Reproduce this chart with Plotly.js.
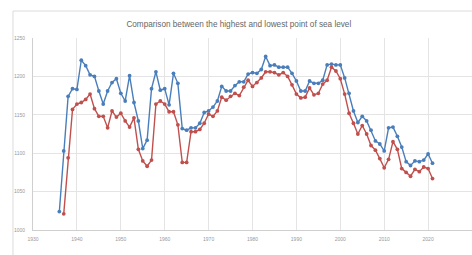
<!DOCTYPE html>
<html>
<head>
<meta charset="utf-8">
<script src="https://cdn.plot.ly/plotly-3.0.1.min.js"></script>
<style>
html,body{margin:0;padding:0;background:#fff;}
#chart{width:472px;height:255px;}
</style>
</head>
<body>
<div id="chart"></div>
<script>
const highYears = [1936,1937,1938,1939,1940,1941,1942,1943,1944,1945,1946,1947,1948,1949,1950,1951,1952,1953,1954,1955,1956,1957,1958,1959,1960,1961,1962,1963,1964,1965,1966,1967,1968,1969,1970,1971,1972,1973,1974,1975,1976,1977,1978,1979,1980,1981,1982,1983,1984,1985,1986,1987,1988,1989,1990,1991,1992,1993,1994,1995,1996,1997,1998,1999,2000,2001,2002,2003,2004,2005,2006,2007,2008,2009,2010,2011,2012,2013,2014,2015,2016,2017,2018,2019,2020,2021];
const highest = [1024,1103,1174,1184,1183,1221,1214,1202,1200,1181,1164,1181,1192,1197,1178,1168,1201,1166,1142,1106,1117,1184,1206,1182,1184,1163,1204,1191,1132,1130,1133,1133,1139,1153,1155,1160,1168,1187,1181,1181,1188,1193,1193,1203,1205,1204,1209,1226,1214,1215,1212,1212,1212,1204,1194,1181,1181,1194,1191,1191,1195,1215,1216,1215,1215,1198,1178,1155,1140,1148,1142,1130,1116,1112,1103,1133,1134,1122,1108,1089,1084,1090,1089,1091,1099,1087];
const lowYears = [1937,1938,1939,1940,1941,1942,1943,1944,1945,1946,1947,1948,1949,1950,1951,1952,1953,1954,1955,1956,1957,1958,1959,1960,1961,1962,1963,1964,1965,1966,1967,1968,1969,1970,1971,1972,1973,1974,1975,1976,1977,1978,1979,1980,1981,1982,1983,1984,1985,1986,1987,1988,1989,1990,1991,1992,1993,1994,1995,1996,1997,1998,1999,2000,2001,2002,2003,2004,2005,2006,2007,2008,2009,2010,2011,2012,2013,2014,2015,2016,2017,2018,2019,2020,2021];
const lowest = [1021,1094,1157,1164,1166,1170,1177,1158,1148,1148,1133,1155,1147,1152,1142,1134,1146,1105,1090,1083,1091,1164,1168,1164,1154,1154,1137,1088,1088,1128,1128,1131,1139,1151,1148,1155,1173,1169,1174,1178,1175,1186,1195,1187,1192,1198,1206,1206,1205,1202,1205,1200,1189,1177,1172,1173,1185,1176,1178,1190,1195,1212,1207,1197,1177,1152,1139,1125,1136,1125,1110,1104,1093,1081,1092,1115,1105,1080,1075,1070,1079,1076,1082,1080,1067];
const xTicks = [1930,1940,1950,1960,1970,1980,1990,2000,2010,2020,2030];
const yTicks = [1000,1050,1100,1150,1200,1250];

const traces = [
  {x: highYears, y: highest, name: 'Highest', type: 'scatter', mode: 'lines+markers',
   line: {color: '#4a7ebb', width: 1.4}, marker: {color: '#4a7ebb', size: 3.8}},
  {x: lowYears, y: lowest, name: 'Lowest', type: 'scatter', mode: 'lines+markers',
   line: {color: '#c0504d', width: 1.4}, marker: {color: '#c0504d', size: 3.8}}
];

const layout = {
  width: 472, height: 255,
  margin: {l: 33, r: 0, t: 38, b: 25, pad: 0},
  paper_bgcolor: '#fff', plot_bgcolor: '#fff',
  showlegend: false,
  title: {text: 'Comparison between the highest and lowest point of sea level',
    x: 0.506, xref: 'container', xanchor: 'center', y: 0.906, yref: 'container', yanchor: 'middle',
    font: {family: 'Liberation Sans, Arial, sans-serif', size: 8.2, color: '#666'}},
  xaxis: {range: [1930, 2030], tickvals: xTicks, ticktext: xTicks.map(String),
    showgrid: true, gridcolor: '#e4e4e4', gridwidth: 1, zeroline: false,
    showline: true, linecolor: '#cfcfcf', linewidth: 1, ticks: '', ticklabelstandoff: 4,
    tickfont: {family: 'Liberation Sans, Arial, sans-serif', size: 5, color: '#999'}, fixedrange: true},
  yaxis: {range: [1000, 1250], tickvals: yTicks, ticktext: yTicks.map(String),
    showgrid: true, gridcolor: '#e4e4e4', gridwidth: 1, zeroline: false,
    showline: true, linecolor: '#cfcfcf', linewidth: 1, ticks: '', ticklabelstandoff: 6,
    tickfont: {family: 'Liberation Sans, Arial, sans-serif', size: 5, color: '#999'}, fixedrange: true},
  shapes: [
    {type: 'line', xref: 'paper', yref: 'paper', x0: -0.0456, x1: 1.2, y0: 1.1406, y1: 1.1406,
     line: {color: '#dcdcdc', width: 1}},
    {type: 'line', xref: 'paper', yref: 'paper', x0: -0.0456, x1: -0.0456, y0: 1.1406, y1: -0.2,
     line: {color: '#dcdcdc', width: 1}}
  ]
};

Plotly.newPlot('chart', traces, layout, {displayModeBar: false, staticPlot: true});
</script>
</body>
</html>
